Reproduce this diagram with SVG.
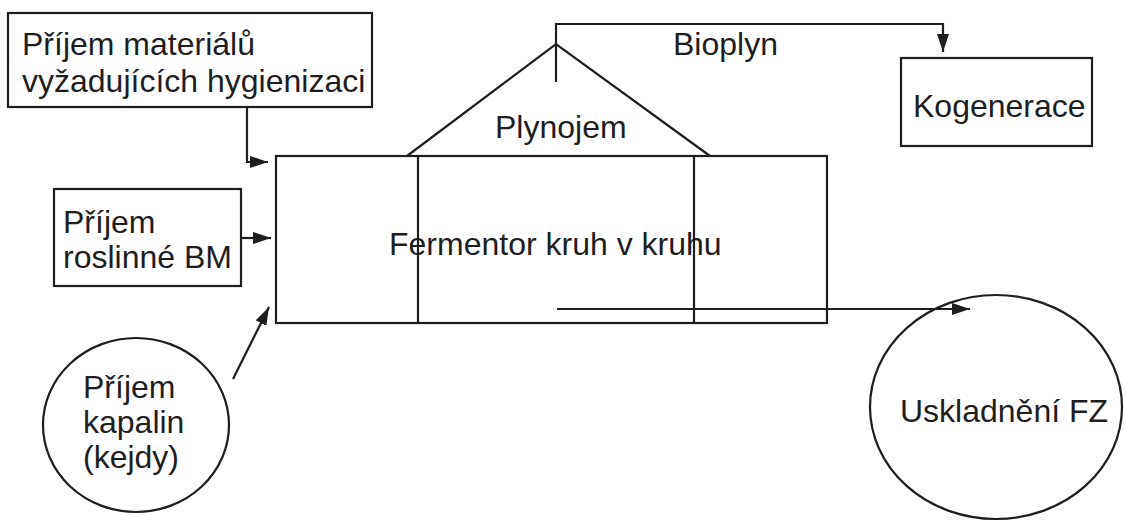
<svg xmlns="http://www.w3.org/2000/svg" width="1125" height="521" viewBox="0 0 1125 521">
<style>
.s{fill:none;stroke:#1e1e1e;stroke-width:2.2}
.t{font-family:"Liberation Sans",Arial,sans-serif;font-size:32px;fill:#1e1e1e}
</style>
<defs>
<marker id="ah" viewBox="0 0 18 12" refX="18" refY="6" markerWidth="18" markerHeight="12" markerUnits="userSpaceOnUse" orient="auto">
<path d="M0,0 L18,6 L0,12 z" fill="#1e1e1e"/>
</marker>
</defs>
<rect width="1125" height="521" fill="#fff"/>
<g id="hyg">
<rect class="s" x="8" y="13" width="364" height="94"/>
<text class="t" x="22" y="55">Příjem materiálů</text>
<text class="t" x="22" y="92">vyžadujících hygienizaci</text>
</g>
<g id="rost">
<rect class="s" x="54" y="189" width="187" height="97"/>
<text class="t" x="63" y="233">Příjem</text>
<text class="t" x="63" y="268">roslinné BM</text>
</g>
<g id="kapaliny">
<ellipse class="s" cx="136" cy="425" rx="93" ry="87"/>
<text class="t" x="83" y="398">Příjem</text>
<text class="t" x="83" y="433">kapalin</text>
<text class="t" x="83" y="468">(kejdy)</text>
</g>
<g id="fermentor">
<rect class="s" x="276" y="156" width="551" height="167"/>
<line class="s" x1="418" y1="156" x2="418" y2="323"/>
<line class="s" x1="694" y1="156" x2="694" y2="323"/>
<text class="t" x="389" y="255">Fermentor kruh v kruhu</text>
</g>
<g id="plynojem">
<polyline class="s" points="407,156 556,44 710,156"/>
<text class="t" x="495" y="138">Plynojem</text>
</g>
<g id="kogenerace">
<rect class="s" x="901" y="58" width="191" height="88"/>
<text class="t" x="913" y="117">Kogenerace</text>
</g>
<g id="uskladneni">
<ellipse class="s" cx="996" cy="407" rx="126" ry="112"/>
<text class="t" x="900" y="422">Uskladnění FZ</text>
</g>
<g id="connectors">
<polyline class="s" points="556,82 556,24 943,24 943,52" marker-end="url(#ah)"/>
<text class="t" x="673" y="55">Bioplyn</text>
<polyline class="s" points="247,107 247,162 268,162" marker-end="url(#ah)"/>
<line class="s" x1="241" y1="238" x2="271" y2="238" marker-end="url(#ah)"/>
<line class="s" x1="233" y1="379" x2="269" y2="307" marker-end="url(#ah)"/>
<line class="s" x1="557" y1="309" x2="970" y2="309" marker-end="url(#ah)"/>
</g>
</svg>
